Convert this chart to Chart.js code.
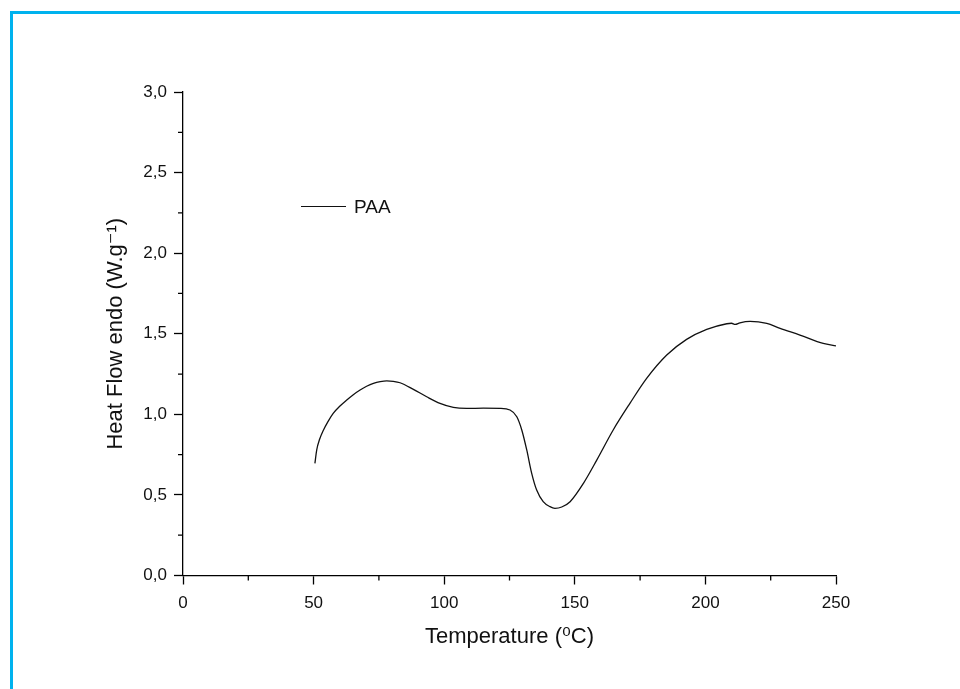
<!DOCTYPE html>
<html>
<head>
<meta charset="utf-8">
<script src="https://cdn.jsdelivr.net/npm/chart.js@4.4.1/dist/chart.umd.min.js"></script>
<style>
  html, body { margin: 0; padding: 0; background: #fff; overflow: hidden; }
  #frame {
    position: absolute; left: 10px; top: 11px; width: 2000px; height: 2000px;
    border-left: 3px solid #00b2ee; border-top: 3px solid #00b2ee;
  }
  #dsc { position: absolute; left: 0; top: 0; }
</style>
</head>
<body>
<div id="frame"></div>
<canvas id="dsc" width="960" height="689"></canvas>
<script>
// DSC curve
const seriesName = "PAA";
const temps = [50.5, 51.2, 52.3, 53.7, 55.5, 57.5, 60, 62.7, 65.2, 67.8, 70.3, 72.9, 75.5, 78.0,
  80.5, 83.1, 88.2, 93.3, 98.4, 103.5, 108.6, 115, 121.4, 125.2, 127.8, 129.7, 131.6,
  133.5, 135.4, 137.9, 140.5, 142.4, 145, 148.2, 153.3, 158.4, 164.7, 171.1, 177.5,
  185.2, 192.8, 200.5, 208.2, 210, 211.4, 213.2, 217.1, 223.5, 228.6, 236.2, 245.1, 250];
const heatFlow = [0.696, 0.78, 0.845, 0.90, 0.955, 1.006, 1.05, 1.089, 1.122, 1.151, 1.174, 1.192,
  1.203, 1.208, 1.205, 1.196, 1.155, 1.109, 1.068, 1.043, 1.037, 1.038, 1.037, 1.027,
  0.985, 0.903, 0.779, 0.634, 0.530, 0.458, 0.427, 0.417, 0.425, 0.458, 0.572, 0.716,
  0.903, 1.068, 1.223, 1.368, 1.465, 1.527, 1.562, 1.565, 1.558, 1.568, 1.577, 1.564,
  1.533, 1.492, 1.44, 1.425];

const xMinorTicks = [25, 75, 125, 175, 225];
const yMinorTicks = [0.25, 0.75, 1.25, 1.75, 2.25, 2.75];

const FONT = "'Liberation Sans', Arial, 'DejaVu Sans', sans-serif";

// minor ticks + legend drawn on top
const extras = {
  id: "extras",
  afterDraw(chart) {
    const ctx = chart.ctx;
    const xs = chart.scales.x, ys = chart.scales.y;
    ctx.save();
    ctx.strokeStyle = "#000";
    ctx.lineWidth = 1.3;
    ctx.beginPath();
    xMinorTicks.forEach(v => {
      const px = xs.getPixelForValue(v);
      ctx.moveTo(px, xs.top); ctx.lineTo(px, xs.top + 5);
    });
    yMinorTicks.forEach(v => {
      const py = ys.getPixelForValue(v);
      ctx.moveTo(ys.right, py); ctx.lineTo(ys.right - 5, py);
    });
    ctx.stroke();

    // legend
    const ca = chart.chartArea;
    const lx = Math.round(ca.left + 118), ly = Math.round(ca.top + 114) + 0.5;
    ctx.lineWidth = 1;
    ctx.strokeStyle = "#111";
    ctx.beginPath();
    ctx.moveTo(lx, ly); ctx.lineTo(lx + 45, ly);
    ctx.stroke();
    ctx.fillStyle = "#111";
    ctx.font = "19px " + FONT;
    ctx.textBaseline = "middle";
    ctx.fillText(chart.data.datasets[0].label, lx + 53, ly + 1);
    ctx.restore();
  }
};

new Chart(document.getElementById("dsc"), {
  type: "line",
  data: {
    datasets: [{
      label: seriesName,
      data: temps.map((t, i) => ({ x: t, y: heatFlow[i] })),
      borderColor: "#111",
      borderWidth: 1.3,
      pointRadius: 0,
      fill: false,
      cubicInterpolationMode: "monotone"
    }]
  },
  options: {
    responsive: false,
    animation: false,
    layout: { padding: { left: 0, right: 124, top: 92, bottom: 0 } },
    plugins: { legend: { display: false }, tooltip: { enabled: false } },
    scales: {
      x: {
        type: "linear",
        min: 0, max: 250,
        afterFit: s => { s.height = 113.5; },
        border: { color: "#000", width: 1.3 },
        grid: { drawOnChartArea: false, tickLength: 9, tickColor: "#000", tickWidth: 1.3 },
        ticks: { stepSize: 50, color: "#111", padding: 9, maxRotation: 0, font: { family: FONT, size: 17 } },
        title: {
          display: true, text: "Temperature (⁰C)", color: "#111",
          font: { family: FONT, size: 22 }, padding: { top: 0, bottom: 39 }
        }
      },
      y: {
        min: 0, max: 3,
        afterFit: s => { s.width = 183; },
        border: { color: "#000", width: 1.3 },
        grid: { drawOnChartArea: false, tickLength: 9, tickColor: "#000", tickWidth: 1.3 },
        ticks: {
          stepSize: 0.5, color: "#111", padding: 7, font: { family: FONT, size: 17 },
          callback: v => v.toFixed(1).replace(".", ",")
        },
        title: {
          display: true, text: "Heat Flow endo (W.g⁻¹)", color: "#111",
          font: { family: FONT, size: 22 }, padding: { top: 103, bottom: 0 }
        }
      }
    }
  },
  plugins: [extras]
});
</script>
</body>
</html>
